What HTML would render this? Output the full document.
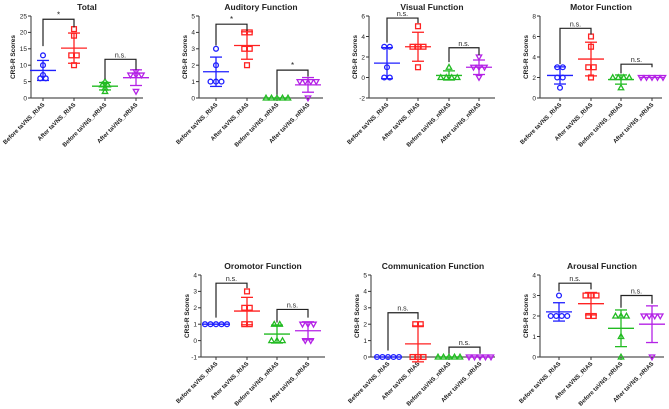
<!DOCTYPE html>
<html><head><meta charset="utf-8">
<style>
html,body{margin:0;padding:0;background:#fff;}
svg{display:block;font-family:"Liberation Sans",Arial,sans-serif;}
</style></head>
<body>
<svg id="fig" width="669" height="409" viewBox="0 0 669 409"></svg>
<script>
const groupNames = ["Before taVNS_RIAS","After taVNS_RIAS","Before taVNS_nRIAS","After taVNS_nRIAS"];
const titles = ["Total","Auditory Function","Visual Function","Motor Function","Oromotor Function","Communication Function","Arousal Function"];
const totalVals = [[13,10,7,6,6],[21,19,13,13,10],[5,4,4,3,2],[8,7,7,7,2]];
const auditoryVals = [[3,2,1,1,1],[4,4,3,3,2],[0,0,0,0,0],[1,1,1,1,0]];
const visualVals = [[3,3,1,0,0],[5,3,3,3,1],[1,0,0,0,0],[2,1,1,1,0]];
const motorVals = [[3,3,2,2,1],[6,5,3,3,2],[2,2,2,2,1],[2,2,2,2,2]];
const oromotorVals = [[1,1,1,1,1],[3,2,2,1,1],[1,1,0,0,0],[1,1,1,0,0]];
const commVals = [[0,0,0,0,0],[2,2,0,0,0],[0,0,0,0,0],[0,0,0,0,0]];
const arousalVals = [[3,2,2,2,2],[3,3,3,2,2],[2,2,2,1,0],[2,2,2,2,0]];
const yTicks = [[0,5,10,15,20,25],[0,1,2,3,4,5],[-2,0,2,4,6],[0,2,4,6,8],[-1,0,1,2,3,4],[0,1,2,3,4,5],[0,1,2,3,4]];
// brackets: [top, leftLegEnd, rightLegEnd, label]
const brackets1 = [[24,15.8,21.5,"*"],[11.8,5.8,8.6,"n.s."]];
const brackets2 = [[4.5,3.2,4.1,"*"],[1.7,0.2,1.3,"*"]];
const brackets3 = [[5.8,3.4,5.3,"n.s."],[2.9,1.5,2.2,"n.s."]];
const brackets4 = [[6.8,3.3,6.2,"n.s."],[3.3,2.4,3.0,"n.s."]];
const brackets5 = [[3.5,1.4,3.2,"n.s."],[1.9,1.1,1.4,"n.s."]];
const brackets6 = [[2.7,0.4,2.3,"n.s."],[0.6,0.2,0.2,"n.s."]];
const brackets7 = [[3.6,3.2,3.3,"n.s."],[3.0,2.4,2.6,"n.s."]];

const NS="http://www.w3.org/2000/svg";
const svg=document.getElementById('fig');
const colors=["#1f1fff","#ff2222","#22bb22","#b422e6"];
function el(tag,attrs,parent){const e=document.createElementNS(NS,tag);for(const k in attrs)e.setAttribute(k,attrs[k]);(parent||svg).appendChild(e);return e;}

const panels=[
 {vals:totalVals,ticks:yTicks[0],br:brackets1,ax:31,top:16,bot:98,cx:[43,74,105,136],xend:143,tY:6},
 {vals:auditoryVals,ticks:yTicks[1],br:brackets2,ax:199,top:16,bot:98,cx:[216,247,277,308],xend:323,tY:6},
 {vals:visualVals,ticks:yTicks[2],br:brackets3,ax:369,top:16,bot:98,cx:[387,418,449,479],xend:495,tY:6},
 {vals:motorVals,ticks:yTicks[3],br:brackets4,ax:540,top:16,bot:98,cx:[560,591,621,652],xend:662,tY:6},
 {vals:oromotorVals,ticks:yTicks[4],br:brackets5,ax:201,top:275,bot:357,cx:[216,247,277,308],xend:325,tY:265},
 {vals:commVals,ticks:yTicks[5],br:brackets6,ax:371,top:275,bot:357,cx:[388,418,449,480],xend:495,tY:265},
 {vals:arousalVals,ticks:yTicks[6],br:brackets7,ax:540,top:275,bot:357,cx:[559,591,621,652],xend:664,tY:265}
];

function marker(g,k,x,y){
 const c=colors[k];const s={fill:"none",stroke:c,"stroke-width":1.3};
 let m;
 if(k===0) m=el('circle',Object.assign({cx:x,cy:y,r:2.4},s),g);
 else if(k===1) m=el('rect',Object.assign({x:x-2.4,y:y-2.4,width:4.8,height:4.8},s),g);
 else if(k===2) m=el('polygon',Object.assign({points:`${x},${y-2.8} ${x-2.7},${y+2} ${x+2.7},${y+2}`},s),g);
 else m=el('polygon',Object.assign({points:`${x},${y+2.8} ${x-2.7},${y-2} ${x+2.7},${y-2}`},s),g);
 
 
}

panels.forEach((p,pi)=>{
 const g=el('g',{});
 
 
 const lo=p.ticks[0],hi=p.ticks[p.ticks.length-1];
 const Y=v=>p.bot-(v-lo)/(hi-lo)*(p.bot-p.top);
 const mid=(p.ax+p.xend)/2;
 const t=el('text',{x:mid,y:p.tY+4,"text-anchor":"middle","font-size":8.5,"font-weight":"bold",fill:"#222"},g);
 t.textContent=titles[pi];
 
 
 // axes
 const ya=el('line',{x1:p.ax,y1:p.top,x2:p.ax,y2:p.bot,stroke:"#333","stroke-width":1},g);
 
 
 const xa=el('line',{x1:p.ax,y1:p.bot,x2:p.xend,y2:p.bot,stroke:"#555","stroke-width":1.2},g);
 
 
 p.ticks.forEach(v=>{
  el('line',{x1:p.ax-3,y1:Y(v),x2:p.ax,y2:Y(v),stroke:"#333","stroke-width":1},g);
  const tl=el('text',{x:p.ax-4,y:Y(v)+2.3,"text-anchor":"end","font-size":6.5,fill:"#222"},g);
  tl.textContent=v;
  
  
 });
 const yt=el('text',{x:0,y:0,"text-anchor":"middle","font-size":6.5,"font-weight":"bold",fill:"#222",transform:`translate(${p.ax-(hi>=10?16:12)},${(p.top+p.bot)/2}) rotate(-90)`},g);
 yt.textContent="CRS-R Scores";
 
 
 p.cx.forEach((x,k)=>{
  el('line',{x1:x,y1:p.bot,x2:x,y2:p.bot+3,stroke:"#333","stroke-width":1},g);
  const xl=el('text',{x:0,y:0,"text-anchor":"end","font-size":6,"font-weight":"bold",fill:"#222",transform:`translate(${x+2},${p.bot+7}) rotate(-45)`},g);
  xl.textContent=groupNames[k];
  
  
  // stats
  const vs=p.vals[k];const n=vs.length;
  const mean=vs.reduce((a,b)=>a+b,0)/n;
  const sd=Math.sqrt(vs.reduce((a,b)=>a+(b-mean)*(b-mean),0)/(n-1));
  const c=colors[k];
  const eg=el('g',{stroke:c,"stroke-width":1.3},g);
  
  
  el('line',{x1:x-13,y1:Y(mean),x2:x+13,y2:Y(mean)},eg);
  if(sd>0){
   el('line',{x1:x,y1:Y(mean-sd),x2:x,y2:Y(mean+sd)},eg);
   el('line',{x1:x-6,y1:Y(mean-sd),x2:x+6,y2:Y(mean-sd)},eg);
   el('line',{x1:x-6,y1:Y(mean+sd),x2:x+6,y2:Y(mean+sd)},eg);
  }
  const counts={};vs.forEach(v=>counts[v]=(counts[v]||0)+1);
  const seen={};
  vs.forEach(v=>{
   const i=seen[v]||0;seen[v]=i+1;
   const dx=(i-(counts[v]-1)/2)*5.5;
   marker(g,k,x+dx,Y(v));
  });
 });
 p.br.forEach((b,bi)=>{
  const x1=p.cx[bi*2],x2=p.cx[bi*2+1];
  const bl=el('polyline',{points:`${x1},${Y(b[1])} ${x1},${Y(b[0])} ${x2},${Y(b[0])} ${x2},${Y(b[2])}`,fill:"none",stroke:"#222","stroke-width":1.2},g);
  
  
  const lb=el('text',{x:(x1+x2)/2,y:Y(b[0])-2,"text-anchor":"middle","font-size":b[3]==="*"?8:7,fill:"#222"},g);
  lb.textContent=b[3];
  
  
 });
});
</script>
</body></html>
